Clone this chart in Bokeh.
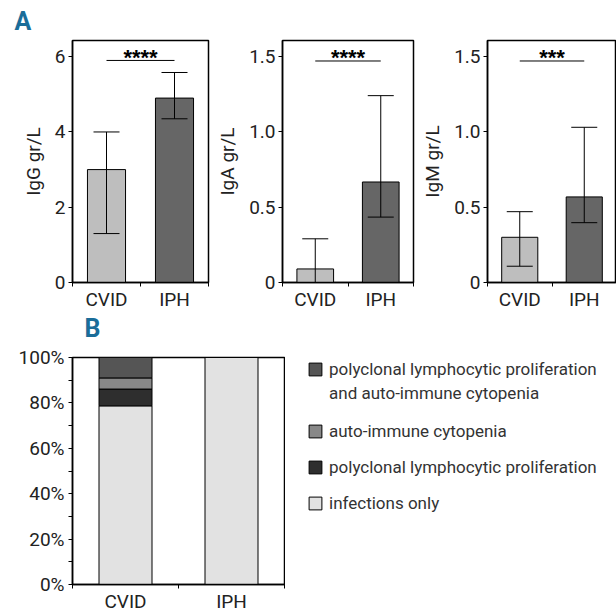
from bokeh.plotting import figure
from bokeh.models import (Range1d, FixedTicker, Whisker, TeeHead, ColumnDataSource,
                          Legend, LegendItem, PrintfTickFormatter)
from bokeh.layouts import row, column
from bokeh.embed import file_html
from bokeh.resources import INLINE
from bokeh.core.properties import value

FONT = "Roboto"
TXT = "#222222"
PANEL_COLOR = "#1a6d99"

# ---------------- data: panel A ----------------
groups = ["CVID", "IPH"]
group_colors = ["#bebebe", "#666666"]

igg_mean = [3.0, 4.9]
igg_low = [1.3, 4.35]
igg_high = [4.0, 5.58]

iga_mean = [0.09, 0.667]
iga_low = [0.0, 0.434]
iga_high = [0.29, 1.24]

igm_mean = [0.30, 0.568]
igm_low = [0.108, 0.397]
igm_high = [0.47, 1.03]

sig_stars = ["****", "****", "***"]
sig_levels = [5.9, 1.47, 1.47]

igg_ticks = [0, 2, 4, 6]
igg_tick_labels = ["0", "2", "4", "6"]
ig_ticks = [0, 0.5, 1.0, 1.5]
ig_tick_labels = ["0", "0.5", "1.0", "1.5"]

# ---------------- data: panel B ----------------
outcome_keys = ["infections", "poly", "autoimmune", "both"]
outcome_labels = ["infections only",
                  "polyclonal lymphocytic proliferation",
                  "auto-immune cytopenia",
                  "polyclonal lymphocytic proliferation"]
both_label_line2 = "and auto-immune cytopenia"
outcome_colors = ["#e2e2e2", "#2e2e2e", "#888888", "#555555"]
cvid_pct = [78.7, 7.4, 4.9, 9.0]
iph_pct = [100.0, 0.0, 0.0, 0.0]
pct_ticks = [0, 20, 40, 60, 80, 100]
pct_minor = [10, 30, 50, 70, 90]

xpos = [i + 1 for i in range(len(groups))]
xr = (0.5, len(groups) + 0.5)
edge_ticks = [0.5 + i for i in range(len(groups) + 1)]


def style_common(p):
    p.xgrid.visible = False
    p.ygrid.visible = False
    p.outline_line_color = "black"
    p.outline_line_width = 1.5
    p.outline_line_alpha = 1
    for ax in (p.xaxis[0], p.yaxis[0]):
        ax.axis_line_color = "black"
        ax.axis_line_width = 1.5
        ax.major_tick_line_color = "black"
        ax.minor_tick_line_color = "black"
        ax.major_tick_line_width = 1
        ax.minor_tick_line_width = 1
        ax.major_tick_in = 0
        ax.minor_tick_in = 0
        ax.major_label_text_font = FONT
        ax.major_label_text_font_size = "19px"
        ax.major_label_text_color = TXT
    xa = p.xaxis[0]
    xa.ticker = FixedTicker(ticks=xpos, minor_ticks=edge_ticks)
    xa.major_label_overrides = {xi: g for xi, g in zip(xpos, groups)}
    xa.major_tick_out = 0
    xa.minor_tick_out = 4
    xa.major_label_standoff = 1


def blank_fig(width, height):
    f = figure(width=width, height=height, x_range=Range1d(0, width), y_range=Range1d(0, height),
               x_axis_location=None, y_axis_location=None, title=None,
               output_backend="svg", toolbar_location=None,
               min_border_left=0, min_border_right=0, min_border_top=0, min_border_bottom=0)
    f.grid.visible = False
    f.outline_line_color = None
    return f


def ig_panel(ylabel, mean, low, high, ymax, ticks, tick_labels, sig, stars,
             width, bl, br, letter=None):
    p = figure(width=width, height=313, x_range=Range1d(*xr), y_range=Range1d(0, ymax),
               output_backend="svg", toolbar_location=None,
               title=letter if letter else None,
               min_border_left=bl, min_border_right=br,
               min_border_top=39, min_border_bottom=31)
    style_common(p)
    src = ColumnDataSource(dict(x=xpos, top=mean, low=low, high=high, color=group_colors))
    p.vbar(x="x", top="top", width=0.56, fill_color="color", line_color="black",
           line_width=1, source=src)
    p.add_layout(Whisker(base="x", upper="high", lower="low", source=src, level="overlay",
                         line_color="black", line_width=1,
                         upper_head=TeeHead(size=26, line_color="black", line_width=1),
                         lower_head=TeeHead(size=26, line_color="black", line_width=1)))
    p.segment(x0=[xpos[0]], y0=[sig], x1=[xpos[-1]], y1=[sig], line_color="black", line_width=1)
    p.text(x=[sum(xpos) / len(xpos)], y=[sig], text=[stars], text_align="center",
           text_baseline="alphabetic", y_offset=-3,
           text_font=value("Liberation Sans"), text_font_style="bold",
           text_font_size="22px", text_color="black")

    ya = p.yaxis[0]
    ya.ticker = FixedTicker(ticks=ticks, minor_ticks=[])
    ya.major_label_overrides = {t: s for t, s in zip(ticks, tick_labels)}
    ya.major_tick_out = 4
    ya.major_label_standoff = 3
    ya.axis_label = ylabel
    ya.axis_label_text_font = FONT
    ya.axis_label_text_font_size = "19px"
    ya.axis_label_text_font_style = "normal"
    ya.axis_label_text_color = TXT
    ya.axis_label_standoff = 7

    if letter:
        p.title.align = "left"
        p.title.offset = -58
        p.title.standoff = 9
        p.title.text_font = FONT
        p.title.text_font_style = "bold"
        p.title.text_font_size = "25px"
        p.title.text_color = PANEL_COLOR
    return p


p1 = ig_panel("IgG gr/L", igg_mean, igg_low, igg_high, 6.43, igg_ticks, igg_tick_labels,
              sig_levels[0], sig_stars[0], 213, 72, 5, letter="A")
p2 = ig_panel("IgA gr/L", iga_mean, iga_low, iga_high, 1.606, ig_ticks, ig_tick_labels,
              sig_levels[1], sig_stars[1], 205, 65, 5)
p3 = ig_panel("IgM gr/L", igm_mean, igm_low, igm_high, 1.606, ig_ticks, ig_tick_labels,
              sig_levels[2], sig_stars[2], 198, 65, 0)

# ---------------- panel B ----------------
pbl = blank_fig(285, 32)
pbl.text(x=[16], y=[pbl.y_range.end], text=["B"], text_baseline="top", text_align="left",
         text_font=value(FONT), text_font_style="bold", text_font_size="25px",
         text_color=PANEL_COLOR)

pb = figure(width=285, height=270, x_range=Range1d(*xr), y_range=Range1d(0, 100),
            output_backend="svg", toolbar_location=None, title=None,
            min_border_left=72, min_border_right=1, min_border_top=12, min_border_bottom=27)
style_common(pb)
data = dict(x=xpos)
for i, k in enumerate(outcome_keys):
    data[k] = [cvid_pct[i], iph_pct[i]]
srcb = ColumnDataSource(data)
pb.vbar_stack(outcome_keys, x="x", width=0.5, fill_color=outcome_colors,
              line_color="black", line_width=1, source=srcb)

yb = pb.yaxis[0]
yb.ticker = FixedTicker(ticks=pct_ticks, minor_ticks=pct_minor)
yb.formatter = PrintfTickFormatter(format="%d%%")
yb.major_tick_out = 4
yb.minor_tick_out = 4
yb.major_label_standoff = 4

# legend panel (entries tied to hidden copies of the stacked bars)
pl = blank_fig(331, 302)
proxies = pl.vbar_stack(outcome_keys, x="x", width=0.5, fill_color=outcome_colors,
                        line_color="black", line_width=1, source=srcb, visible=False)
line2_proxy = pl.vbar(x="x", top=outcome_keys[-1], width=0.5, source=srcb,
                      fill_alpha=0, line_alpha=0, visible=False)

leg_kw = dict(orientation="vertical", glyph_width=16, glyph_height=16, label_standoff=6,
              label_height=16, padding=0, margin=0, border_line_color=None,
              background_fill_alpha=0, inactive_fill_alpha=0,
              label_text_font=FONT, label_text_font_size="17px", label_text_color="#333333")
leg1 = Legend(items=[LegendItem(label=outcome_labels[3], renderers=[proxies[3]]),
                     LegendItem(label=both_label_line2, renderers=[line2_proxy])],
              location=(22, 212), spacing=4, **leg_kw)
leg2 = Legend(items=[LegendItem(label=outcome_labels[i], renderers=[proxies[i]])
                     for i in (2, 1, 0)],
              location=(22, 102), spacing=16, **leg_kw)
pl.add_layout(leg1)
pl.add_layout(leg2)

layout = column(row(p1, p2, p3), row(column(pbl, pb), pl))
open("out.html", "w").write(file_html(layout, INLINE))
